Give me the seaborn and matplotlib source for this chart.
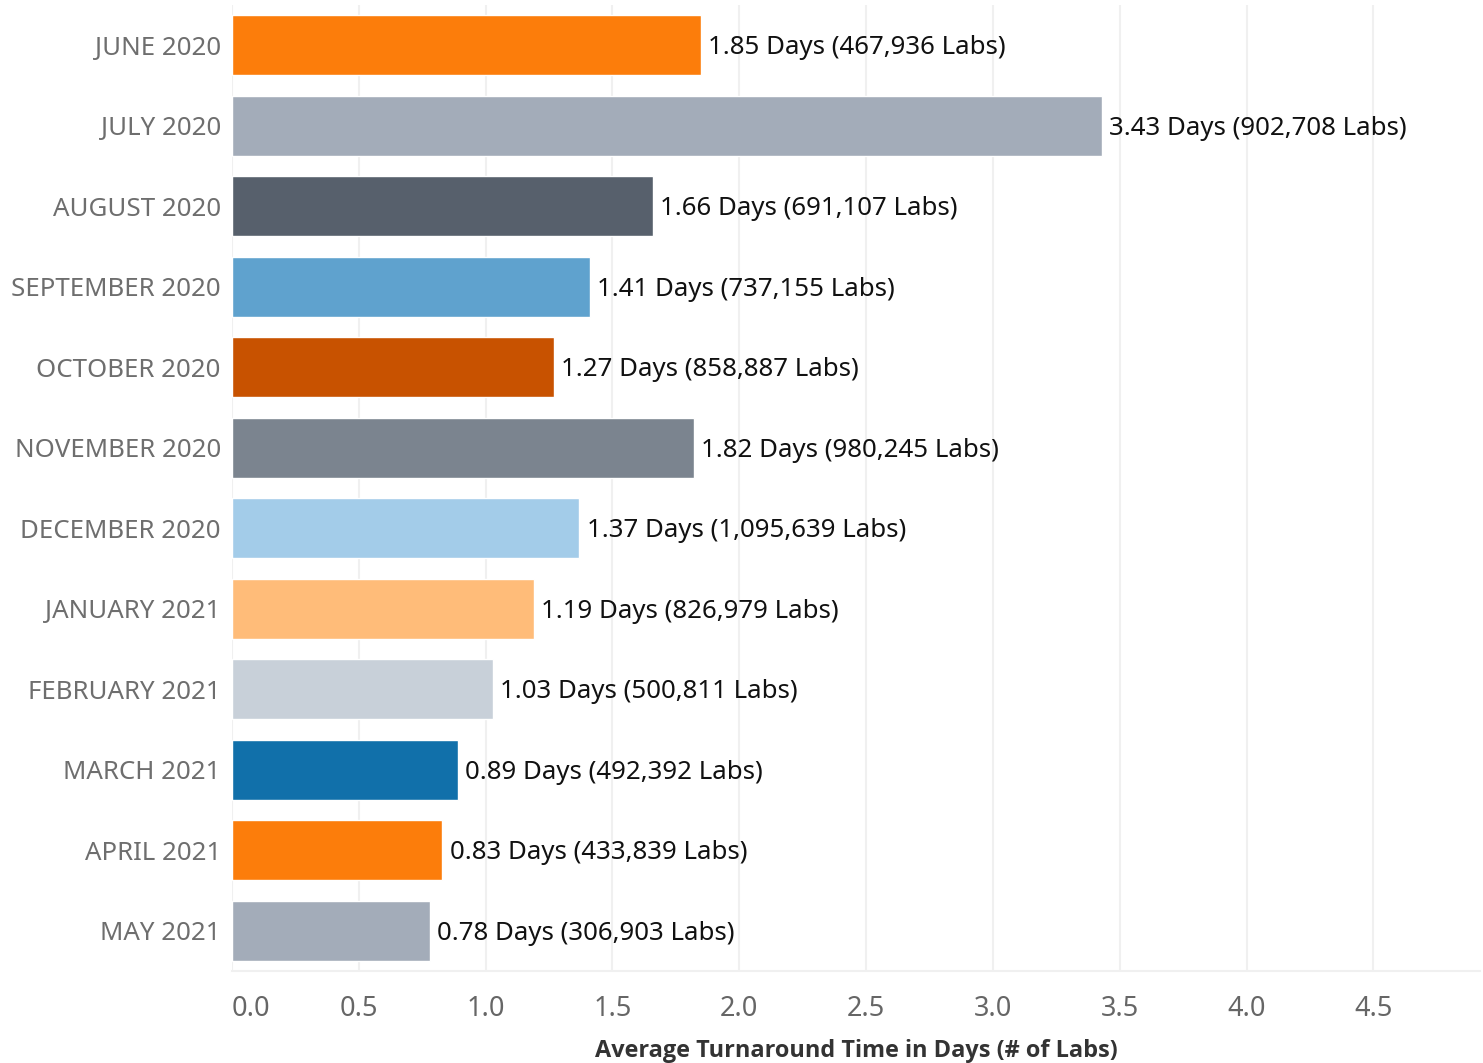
import matplotlib.pyplot as plt
import matplotlib.transforms as mtransforms
import seaborn as sns
import pandas as pd

months = ['JUNE 2020', 'JULY 2020', 'AUGUST 2020', 'SEPTEMBER 2020', 'OCTOBER 2020',
          'NOVEMBER 2020', 'DECEMBER 2020', 'JANUARY 2021', 'FEBRUARY 2021',
          'MARCH 2021', 'APRIL 2021', 'MAY 2021']
avg_days = [1.85, 3.43, 1.66, 1.41, 1.27, 1.82, 1.37, 1.19, 1.03, 0.89, 0.83, 0.78]
num_labs = [467936, 902708, 691107, 737155, 858887, 980245, 1095639, 826979,
            500811, 492392, 433839, 306903]
bar_colors = ['#fc7d0b', '#a3acb9', '#57606c', '#5fa2ce', '#c85200', '#7b848f',
              '#a3cce9', '#ffbc79', '#c8d0d9', '#1170aa', '#fc7d0b', '#a3acb9']
x_ticks = [0.0, 0.5, 1.0, 1.5, 2.0, 2.5, 3.0, 3.5, 4.0, 4.5]

df = pd.DataFrame({'month': months, 'days': avg_days, 'labs': num_labs})

sns.set_style('white')
plt.rcParams['font.family'] = ['Noto Sans', 'DejaVu Sans']

fig = plt.figure(figsize=(14.83, 10.63), dpi=100)
ax = fig.add_axes([0.1564, 0.0865, 0.8416, 0.9088])

sns.barplot(data=df, x='days', y='month', hue='month', palette=bar_colors,
            legend=False, width=0.745, saturation=1, ax=ax, orient='h')

# value labels next to each bar
for i, row in df.iterrows():
    ax.text(row['days'] + 0.028, i + 0.03, f"{row['days']:.2f} Days ({row['labs']:,} Labs)",
            va='center', ha='left', fontsize=18.6, color='#111111')

ax.set_xlim(0, 4.92)
ax.set_ylim(11.5, -0.5)
ax.set_xticks(x_ticks)
ax.set_xticklabels([f'{t:.1f}' for t in x_ticks])
first = ax.get_xticklabels()[0]
first.set_horizontalalignment('left')
first.set_transform(first.get_transform() +
                    mtransforms.ScaledTranslation(4 / 100, 0, fig.dpi_scale_trans))

ax.grid(axis='x', color='#f0f0f0', linewidth=1.5)
ax.set_axisbelow(True)
for s in ['top', 'right', 'left']:
    ax.spines[s].set_visible(False)
ax.spines['bottom'].set_color('#f0f0f0')
ax.spines['bottom'].set_linewidth(1.5)

ax.tick_params(axis='x', colors='#666666', labelsize=19.5, length=8, width=1.5,
               color='#f0f0f0', pad=9)
ax.tick_params(axis='y', colors='#6e6e6e', labelsize=18.6, length=0, pad=8)

ax.set_ylabel('')
ax.set_xlabel('Average Turnaround Time in Days (# of Labs)', fontsize=16.9,
              fontweight='bold', family=['Open Sans', 'DejaVu Sans'],
              color='#333333', labelpad=12)

fig.savefig('out.png', dpi=100)
